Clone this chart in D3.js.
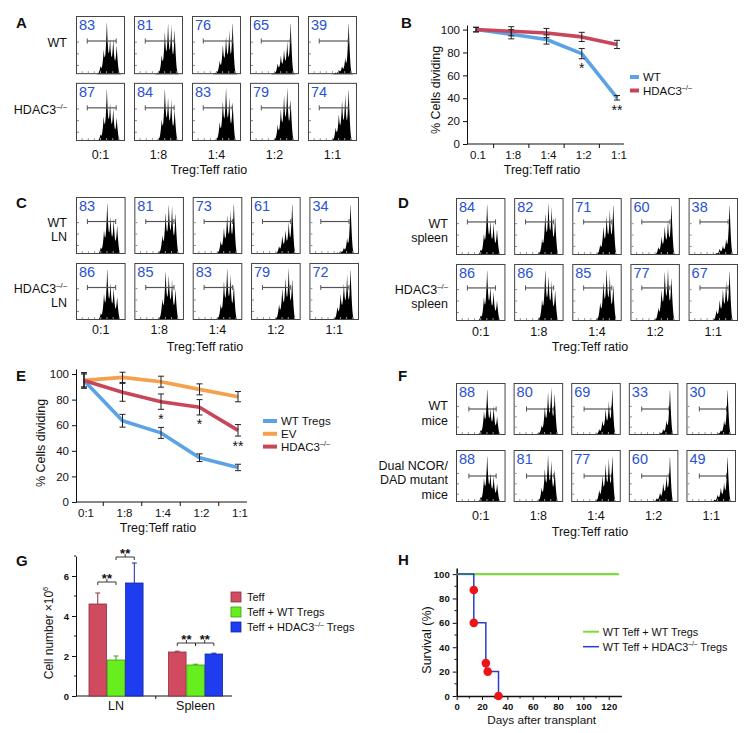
<!DOCTYPE html>
<html lang="en">
<head>
<meta charset="utf-8">
<title>Treg suppression panels</title>
<script src="https://d3js.org/d3.v7.min.js"></script>
<style>
  body { margin: 0; background: #fff; }
  svg text { font-family: "Liberation Sans", Arial, Helvetica, sans-serif; fill: #111; }
</style>
</head>
<body>
<script>
// ---------- data ----------
var ratios  = ["0:1", "1:8", "1:4", "1:2", "1:1"];
var ratiosB = ["0.1", "1:8", "1:4", "1:2", "1:1"];
var rowKeys = ["WT", "KO"];

// % dividing printed in each histogram, [WT row, KO row]
var pctA = [[83, 81, 76, 65, 39], [87, 84, 83, 79, 74]];
var pctC = [[83, 81, 73, 61, 34], [86, 85, 83, 79, 72]];
var pctD = [[84, 82, 71, 60, 38], [86, 86, 85, 77, 67]];
var pctF = [[88, 80, 69, 33, 30], [88, 81, 77, 60, 49]];

// CFSE generation peaks, most divided -> undivided (relative heights)
var genPos = [0.50, 0.565, 0.63, 0.695, 0.76, 0.83];
var peaksA = [
  [[0.15, 0.45, 1.0, 0.65, 0.65, 0.55], [0.05, 0.35, 0.8, 0.95, 0.9, 0.85], [0.05, 0.25, 0.55, 0.7, 0.8, 1.0],
   [0.03, 0.2, 0.35, 0.45, 0.6, 1.0], [0.0, 0.03, 0.08, 0.15, 0.3, 1.0]],
  [[0.12, 0.45, 1.0, 0.7, 0.6, 0.45], [0.05, 0.4, 1.0, 0.8, 0.75, 0.6], [0.05, 0.35, 0.75, 1.0, 0.8, 0.75],
   [0.04, 0.3, 0.6, 0.85, 1.0, 0.8], [0.03, 0.25, 0.5, 0.75, 0.85, 1.0]]
];
var peaksC = [
  [[0.12, 0.45, 1.0, 0.7, 0.65, 0.55], [0.05, 0.35, 0.8, 0.95, 0.9, 0.8], [0.04, 0.25, 0.5, 0.75, 0.8, 1.0],
   [0.02, 0.15, 0.35, 0.45, 0.6, 1.0], [0.0, 0.03, 0.06, 0.12, 0.3, 1.0]],
  [[0.12, 0.5, 1.0, 0.7, 0.6, 0.45], [0.05, 0.4, 0.95, 0.85, 0.75, 0.6], [0.05, 0.3, 0.75, 1.0, 0.85, 0.7],
   [0.04, 0.3, 0.6, 0.8, 1.0, 0.8], [0.03, 0.25, 0.5, 0.7, 0.85, 1.0]]
];
var peaksD = [
  [[0.1, 0.4, 1.0, 0.65, 0.6, 0.5], [0.05, 0.3, 0.8, 1.0, 0.9, 0.75], [0.03, 0.2, 0.55, 0.75, 0.85, 1.0],
   [0.02, 0.15, 0.35, 0.55, 0.65, 1.0], [0.01, 0.04, 0.12, 0.18, 0.3, 1.0]],
  [[0.1, 0.45, 1.0, 0.65, 0.55, 0.4], [0.06, 0.4, 1.0, 0.85, 0.75, 0.6], [0.05, 0.35, 0.75, 1.0, 0.85, 0.7],
   [0.04, 0.25, 0.6, 0.95, 1.0, 0.85], [0.03, 0.2, 0.4, 0.6, 0.75, 1.0]]
];
var peaksF = [
  [[0.1, 0.5, 1.0, 0.55, 0.6, 0.4], [0.05, 0.2, 0.6, 0.9, 1.0, 0.9], [0.03, 0.12, 0.3, 0.55, 0.7, 1.0],
   [0.0, 0.02, 0.05, 0.12, 0.3, 1.0], [0.0, 0.01, 0.04, 0.1, 0.3, 1.0]],
  [[0.1, 0.5, 1.0, 0.6, 0.55, 0.4], [0.05, 0.3, 0.7, 1.0, 0.85, 0.7], [0.04, 0.25, 0.55, 0.8, 0.9, 1.0],
   [0.02, 0.08, 0.2, 0.4, 0.55, 1.0], [0.01, 0.05, 0.15, 0.3, 0.4, 1.0]]
];

// B: % cells dividing
var wtB = [100, 95.9, 91.3, 79, 40.4];
var wtBErr = [2, 4, 4, 4.5, 2];
var koB = [100, 98.5, 97, 93.6, 87];
var koBErr = [2, 4, 4, 4, 3.6];

// E: % cells dividing
var wtE = [95, 63.5, 54, 34.6, 27];
var wtEErr = [6, 5, 4.3, 3, 2.5];
var evE = [95, 97.4, 94, 88, 82.3];
var evEErr = [5, 4, 4.3, 4.3, 4];
var koE = [95, 85.7, 78.4, 74, 56];
var koEErr = [6, 7, 6, 6, 4.5];

// G: cell number x10^6
var groupsG = ["LN", "Spleen"];
var seriesG = ["Teff", "Teff + WT Tregs", "Teff + HDAC3^–/–^ Tregs"];
var cellsG = [[4.6, 1.8, 5.65], [2.2, 1.55, 2.1]];
var cellsErr = [[0.55, 0.2, 1.0], [0.04, 0.04, 0.04]];
var sigLevels = [[5.7, 6.95], [2.65, 2.65]];

// H: survival
var koDays = [0, 13.5, 23, 33];
var koSurv = [100, 60, 20, 0];
var wtDays = [0, 128];
var wtSurv = [100, 100];
var deathDays = [13.5, 13.5, 23, 24.5, 33];
var deathSurv = [87, 60, 27, 20, 0];

// ---------- drawing ----------
var FONT = '"Liberation Sans", Arial, sans-serif';
var numBlue = "#2a52d2";
var svg = d3.select("body").append("svg").attr("width", 749).attr("height", 733);
svg.append("rect").attr("width", 749).attr("height", 733).attr("fill", "#fff");

function richText(sel, x, y, str, size, anchor) {
  var t = sel.append("text").attr("x", x).attr("y", y)
    .attr("font-size", size).attr("text-anchor", anchor || "start");
  str.split("^").forEach(function(part, i) {
    if (!part) return;
    var ts = t.append("tspan").text(part);
    if (i % 2 === 1) ts.attr("dy", -0.4 * size).attr("font-size", 0.62 * size);
    else if (i > 0) ts.attr("dy", 0.4 * size);
  });
  return t;
}

function panelLetter(x, y, s) {
  svg.append("text").attr("x", x).attr("y", y).attr("font-size", 15)
    .attr("font-weight", "bold").text(s);
}

function styleAxis(g, size, weight) {
  g.attr("font-family", FONT).attr("font-size", size);
  g.selectAll("path, line").attr("stroke", "#111");
  if (weight) g.selectAll("text").attr("font-weight", weight);
}

function density(t, hs) {
  var v = 0;
  hs.forEach(function(h, i) {
    var d = t - genPos[i];
    v += h * (0.45 * Math.exp(-Math.abs(d) / 0.011) + 0.55 * Math.exp(-(d * d) / (0.034 * 0.034)));
  });
  return Math.min(v, 1);
}

function histPanel(cfg) {
  var g = svg.append("g");
  var x = d3.scaleBand().domain(ratios).range(cfg.xRange).paddingInner(cfg.padX);
  var y = d3.scaleBand().domain(rowKeys).range(cfg.yRange).paddingInner(cfg.padY);
  var samples = d3.range(0, 1.0001, 0.004);
  rowKeys.forEach(function(rk, r) {
    var by = y(rk), bh = y.bandwidth();
    ratios.forEach(function(rt, c) {
      var bx = x(rt), bw = x.bandwidth();
      var hx = d3.scaleLinear().domain([0, 1]).range([bx, bx + bw]);
      var hy = d3.scaleLinear().domain([0, 1]).range([by + bh, by + 4]);
      var peaks = cfg.peaks[r][c];
      var area = d3.area()
        .x(function(t) { return hx(t); })
        .y0(by + bh)
        .y1(function(t) { return hy(density(t, peaks)); });
      var gate = function() {
        var gy = by + cfg.gateY * bh;
        var x1 = hx(cfg.gate[0]), x2 = hx(cfg.gate[1]);
        g.append("line").attr("x1", x1).attr("x2", x2).attr("y1", gy).attr("y2", gy)
          .attr("stroke", "#555").attr("stroke-width", 1.2);
        [x1, x2].forEach(function(xx) {
          g.append("line").attr("x1", xx).attr("x2", xx).attr("y1", gy - 2.5).attr("y2", gy + 2.5)
            .attr("stroke", "#555").attr("stroke-width", 1);
        });
      };
      if (!cfg.gateOnTop) gate();
      g.append("path").datum(samples).attr("d", area).attr("fill", "#000");
      if (cfg.gateOnTop) gate();
      g.append("rect").attr("x", bx + 0.5).attr("y", by + 0.5).attr("width", bw - 1).attr("height", bh - 1)
        .attr("fill", "none").attr("stroke", "#444").attr("stroke-width", 1);
      // small inner ticks
      [0.45, 0.65, 0.85].forEach(function(f) {
        g.append("line").attr("x1", bx + 1).attr("x2", bx + 3)
          .attr("y1", by + bh * f).attr("y2", by + bh * f).attr("stroke", "#888");
      });
      d3.range(1, 8).forEach(function(k) {
        g.append("line").attr("x1", hx(k / 8)).attr("x2", hx(k / 8))
          .attr("y1", by + bh - 1).attr("y2", by + bh - 3).attr("stroke", "#999");
      });
      g.append("text").attr("x", bx + 3).attr("y", by + 14).attr("font-size", 14.5)
        .style("fill", numBlue).text(cfg.pct[r][c]);
    });
    var lines = cfg.rowLabels[r];
    var cy = by + bh / 2 + cfg.labelDy;
    lines.forEach(function(s, i) {
      richText(g, cfg.labelX, cy + (i - (lines.length - 1) / 2) * 14.5 + 4.3, s, 12.5, "end");
    });
  });
  ratios.forEach(function(rt) {
    g.append("text").attr("x", x(rt) + x.bandwidth() / 2).attr("y", cfg.tickY)
      .attr("text-anchor", "middle").attr("font-size", 12.5).text(rt);
  });
  g.append("text").attr("x", cfg.titleX).attr("y", cfg.titleY).attr("text-anchor", "middle")
    .attr("font-size", 12.5).text("Treg:Teff ratio");
}

// ----- A -----
panelLetter(16, 28, "A");
histPanel({ xRange: [76, 357], padX: 0.155, yRange: [16, 141], padY: 0.13,
  pct: pctA, peaks: peaksA, gate: [0.23, 0.82], gateY: 0.43, gateOnTop: true,
  rowLabels: [["WT"], ["HDAC3^–/–^"]], labelX: 67, labelDy: -2,
  tickY: 159, titleY: 174, titleX: 209 });

// ----- C -----
panelLetter(16, 208, "C");
histPanel({ xRange: [76, 359], padX: 0.15, yRange: [197, 320], padY: 0.136,
  pct: pctC, peaks: peaksC, gate: [0.23, 0.8], gateY: 0.43, gateOnTop: true,
  rowLabels: [["WT", "LN"], ["HDAC3^–/–^", "LN"]], labelX: 67, labelDy: 4,
  tickY: 334, titleY: 351, titleX: 205 });

// ----- D -----
panelLetter(398, 208, "D");
histPanel({ xRange: [456, 738], padX: 0.15, yRange: [198, 321], padY: 0.136,
  pct: pctD, peaks: peaksD, gate: [0.23, 0.8], gateY: 0.42, gateOnTop: true,
  rowLabels: [["WT", "spleen"], ["HDAC3^–/–^", "spleen"]], labelX: 448, labelDy: 4,
  tickY: 336, titleY: 351, titleX: 590 });

// ----- F -----
panelLetter(398, 381, "F");
histPanel({ xRange: [456, 736], padX: 0.14, yRange: [383, 502], padY: 0.224,
  pct: pctF, peaks: peaksF, gate: [0.26, 0.81], gateY: 0.5, gateOnTop: false,
  rowLabels: [["WT", "mice"], ["Dual NCOR/", "DAD mutant", "mice"]], labelX: 448, labelDy: 4,
  tickY: 520, titleY: 536, titleX: 590 });

// ----- line chart helper (B, E) -----
function lineChart(cfg) {
  var g = svg.append("g");
  var x = d3.scalePoint().domain(cfg.cats).range(cfg.xRange);
  var y = d3.scaleLinear().domain([0, 104]).range(cfg.yRange);
  var y0 = cfg.yRange[0];
  var ay = g.append("g").attr("transform", "translate(" + cfg.axisX + ",0)")
    .call(d3.axisLeft(y).tickValues([0, 20, 40, 60, 80, 100]).tickSize(4).tickSizeOuter(0));
  styleAxis(ay, cfg.tickSize);
  g.append("line").attr("x1", cfg.axisX).attr("x2", cfg.axisEnd).attr("y1", y0).attr("y2", y0)
    .attr("stroke", "#111");
  d3.pairs(cfg.cats).forEach(function(p) {
    var mx = (x(p[0]) + x(p[1])) / 2;
    g.append("line").attr("x1", mx).attr("x2", mx).attr("y1", y0).attr("y2", y0 + 4).attr("stroke", "#111");
  });
  cfg.cats.forEach(function(c) {
    g.append("text").attr("x", x(c) + 2).attr("y", y0 + 15).attr("text-anchor", "middle")
      .attr("font-size", cfg.tickSize).text(c);
  });
  g.append("text").attr("x", cfg.titleX).attr("y", y0 + 30).attr("text-anchor", "middle")
    .attr("font-size", 12.5).text("Treg:Teff ratio");
  g.append("text").attr("transform", "translate(" + cfg.ylabX + "," + cfg.ylabY + ") rotate(-90)")
    .attr("text-anchor", "middle").attr("font-size", 12.5).text("% Cells dividing");

  var line = d3.line().x(function(d, i) { return x(cfg.cats[i]); }).y(function(d) { return y(d); });
  cfg.series.forEach(function(s) {
    g.append("path").datum(s.v).attr("d", line).attr("fill", "none")
      .attr("stroke", s.color).attr("stroke-width", 3.6).attr("stroke-linejoin", "round");
  });
  cfg.series.forEach(function(s) {
    s.v.forEach(function(v, i) {
      var cx = x(cfg.cats[i]), e = s.e[i];
      g.append("line").attr("x1", cx).attr("x2", cx).attr("y1", y(v - e)).attr("y2", y(v + e))
        .attr("stroke", "#222").attr("stroke-width", 1);
      [v - e, v + e].forEach(function(w) {
        g.append("line").attr("x1", cx - 3).attr("x2", cx + 3).attr("y1", y(w)).attr("y2", y(w))
          .attr("stroke", "#222").attr("stroke-width", 1);
      });
    });
  });
  cfg.stars.forEach(function(st) {
    var s = cfg.series[st.s];
    g.append("text").attr("x", x(cfg.cats[st.i])).attr("y", y(s.v[st.i] - s.e[st.i]) + 14.5)
      .attr("text-anchor", "middle").attr("font-size", 14).text(st.t);
  });
  cfg.series.forEach(function(s, k) {
    var ly = cfg.legY + k * cfg.legStep;
    g.append("line").attr("x1", cfg.legX).attr("x2", cfg.legX + cfg.legW).attr("y1", ly).attr("y2", ly)
      .attr("stroke", s.color).attr("stroke-width", 4);
    richText(g, cfg.legX + cfg.legW + 4, ly + 4, s.name, 11.5, "start");
  });
}

// ----- B -----
panelLetter(401, 28, "B");
lineChart({ cats: ratiosB, xRange: [476, 617], yRange: [144, 25], axisX: 467, axisEnd: 624,
  tickSize: 11.5, titleX: 542, ylabX: 440, ylabY: 90,
  series: [
    { name: "WT", v: wtB, e: wtBErr, color: "#5ba3e6" },
    { name: "HDAC3^–/–^", v: koB, e: koBErr, color: "#c8465a" }
  ],
  stars: [{ s: 0, i: 3, t: "*" }, { s: 0, i: 4, t: "**" }],
  legX: 630, legW: 9, legY: 77, legStep: 13.5 });

// ----- E -----
panelLetter(16, 381, "E");
lineChart({ cats: ratios, xRange: [84, 238], yRange: [502, 368.9], axisX: 76, axisEnd: 247,
  tickSize: 11.5, titleX: 158, ylabX: 45, ylabY: 443,
  series: [
    { name: "WT Tregs", v: wtE, e: wtEErr, color: "#5ba3e6" },
    { name: "EV", v: evE, e: evEErr, color: "#f5a04b" },
    { name: "HDAC3^–/–^", v: koE, e: koEErr, color: "#c8465a" }
  ],
  stars: [{ s: 2, i: 2, t: "*" }, { s: 2, i: 3, t: "*" }, { s: 2, i: 4, t: "**" }],
  legX: 263, legW: 14, legY: 421, legStep: 12.8 });

// ----- G -----
panelLetter(16, 566, "G");
(function() {
  var g = svg.append("g");
  var colors = ["#d04b5f", "#66ee1e", "#1e3cf0"];
  var y = d3.scaleLinear().domain([0, 7]).range([696, 556]);
  var x0 = d3.scaleBand().domain(groupsG).range([89, 222.6]).paddingInner(0.32);
  var x1 = d3.scaleBand().domain(seriesG).range([0, x0.bandwidth()]).paddingInner(0.04);
  var ay = g.append("g").attr("transform", "translate(76,0)")
    .call(d3.axisLeft(y).tickValues([0, 2, 4, 6]).tickFormat(d3.format("d")).tickSize(4).tickSizeOuter(0));
  styleAxis(ay, 9.5, "bold");
  [1, 3, 5, 7].forEach(function(v) {
    g.append("line").attr("x1", 74).attr("x2", 76).attr("y1", y(v)).attr("y2", y(v)).attr("stroke", "#111");
  });
  g.append("line").attr("x1", 76).attr("x2", 232).attr("y1", y(0)).attr("y2", y(0)).attr("stroke", "#111");
  var mid = (x0("LN") + x0.bandwidth() + x0("Spleen")) / 2;
  g.append("line").attr("x1", mid).attr("x2", mid).attr("y1", y(0)).attr("y2", y(0) + 3).attr("stroke", "#111");
  groupsG.forEach(function(grp, gi) {
    g.append("text").attr("x", x0(grp) + x0.bandwidth() / 2).attr("y", 710).attr("text-anchor", "middle")
      .attr("font-size", 12.5).text(grp);
    cellsG[gi].forEach(function(v, si) {
      var bx = x0(grp) + x1(seriesG[si]), bw = x1.bandwidth();
      var edge = d3.color(colors[si]).darker(1.2).toString();
      var cx = bx + bw / 2, top = y(v + cellsErr[gi][si]);
      g.append("line").attr("x1", cx).attr("x2", cx).attr("y1", y(v)).attr("y2", top)
        .attr("stroke", edge).attr("stroke-width", 1);
      g.append("line").attr("x1", cx - 2.5).attr("x2", cx + 2.5).attr("y1", top).attr("y2", top)
        .attr("stroke", edge).attr("stroke-width", 1);
      g.append("rect").attr("x", bx).attr("y", y(v)).attr("width", bw).attr("height", y(0) - y(v))
        .attr("fill", colors[si]).attr("stroke", edge).attr("stroke-width", 0.8);
    });
    // significance brackets: Teff vs WT Tregs, WT Tregs vs HDAC3 Tregs
    [[0, 1], [1, 2]].forEach(function(pair, k) {
      var xa = x0(grp) + x1(seriesG[pair[0]]) + x1.bandwidth() / 2;
      var xb = x0(grp) + x1(seriesG[pair[1]]) + x1.bandwidth() / 2;
      var by = y(sigLevels[gi][k]);
      var xm = (xa + xb) / 2;
      g.append("path").attr("d", "M" + xa + "," + (by + 3) + "V" + by + "H" + xb + "V" + (by + 3) +
          "M" + xm + "," + by + "V" + (by - 3))
        .attr("fill", "none").attr("stroke", "#222").attr("stroke-width", 0.9);
      g.append("text").attr("x", xm).attr("y", by + 1).attr("text-anchor", "middle")
        .attr("font-size", 13).attr("font-weight", "bold").text("**");
    });
  });
  g.append("g").attr("transform", "translate(53,633) rotate(-90)").call(function(s) {
    richText(s, 0, 0, "Cell number ×10^6", 12, "middle");
  });
  seriesG.forEach(function(name, si) {
    var ly = 597 + si * 15;
    g.append("rect").attr("x", 231).attr("y", ly - 5).attr("width", 10).attr("height", 10)
      .attr("fill", colors[si]).attr("stroke", d3.color(colors[si]).darker(1.2).toString()).attr("stroke-width", 0.8);
    richText(g, 247, ly + 4, name, 11, "start");
  });
})();

// ----- H -----
panelLetter(398, 565, "H");
(function() {
  var g = svg.append("g");
  var x = d3.scaleLinear().domain([0, 130]).range([456.7, 621.4]);
  var y = d3.scaleLinear().domain([0, 105]).range([696, 568]);
  var ay = g.append("g").attr("transform", "translate(456.7,0)")
    .call(d3.axisLeft(y).tickValues([0, 20, 40, 60, 80, 100]).tickSize(4).tickSizeOuter(0));
  styleAxis(ay, 9.5, "bold");
  ay.select(".domain").attr("stroke-width", 1.6);
  var ax = g.append("g").attr("transform", "translate(0,696)")
    .call(d3.axisBottom(x).tickValues(d3.range(0, 121, 20)).tickSize(4).tickSizeOuter(0));
  styleAxis(ax, 9.5, "bold");
  ax.select(".domain").attr("stroke-width", 1.6);
  d3.range(10, 130, 20).forEach(function(v) {
    g.append("line").attr("x1", x(v)).attr("x2", x(v)).attr("y1", 696).attr("y2", 698.5).attr("stroke", "#111");
  });
  d3.range(10, 101, 20).forEach(function(v) {
    g.append("line").attr("x1", 454.5).attr("x2", 456.7).attr("y1", y(v)).attr("y2", y(v)).attr("stroke", "#111");
  });
  var step = d3.line().curve(d3.curveStepAfter)
    .x(function(d) { return x(d[0]); }).y(function(d) { return y(d[1]); });
  g.append("path").datum(d3.zip(wtDays, wtSurv)).attr("d", step).attr("fill", "none")
    .attr("stroke", "#7ddc3a").attr("stroke-width", 2.4);
  g.append("path").datum(d3.zip(koDays, koSurv)).attr("d", step).attr("fill", "none")
    .attr("stroke", "#2a3fc8").attr("stroke-width", 1.5);
  g.selectAll("circle.death").data(d3.zip(deathDays, deathSurv)).enter().append("circle")
    .attr("cx", function(d) { return x(d[0]); }).attr("cy", function(d) { return y(d[1]); })
    .attr("r", 4.3).attr("fill", "#ee1414");
  g.append("text").attr("x", 541.7).attr("y", 724).attr("text-anchor", "middle")
    .attr("font-size", 11.8).text("Days after transplant");
  g.append("text").attr("transform", "translate(431,640) rotate(-90)")
    .attr("text-anchor", "middle").attr("font-size", 12.5).text("Survival (%)");
  [["WT Teff + WT Tregs", "#7ddc3a"], ["WT Teff + HDAC3^–/–^ Tregs", "#2a3fc8"]].forEach(function(l, k) {
    var ly = 631.7 + k * 15;
    g.append("line").attr("x1", 583).attr("x2", 599).attr("y1", ly).attr("y2", ly)
      .attr("stroke", l[1]).attr("stroke-width", k === 0 ? 2 : 1.5);
    richText(g, 602.7, ly + 4, l[0], 10.8, "start");
  });
})();
</script>
</body>
</html>
